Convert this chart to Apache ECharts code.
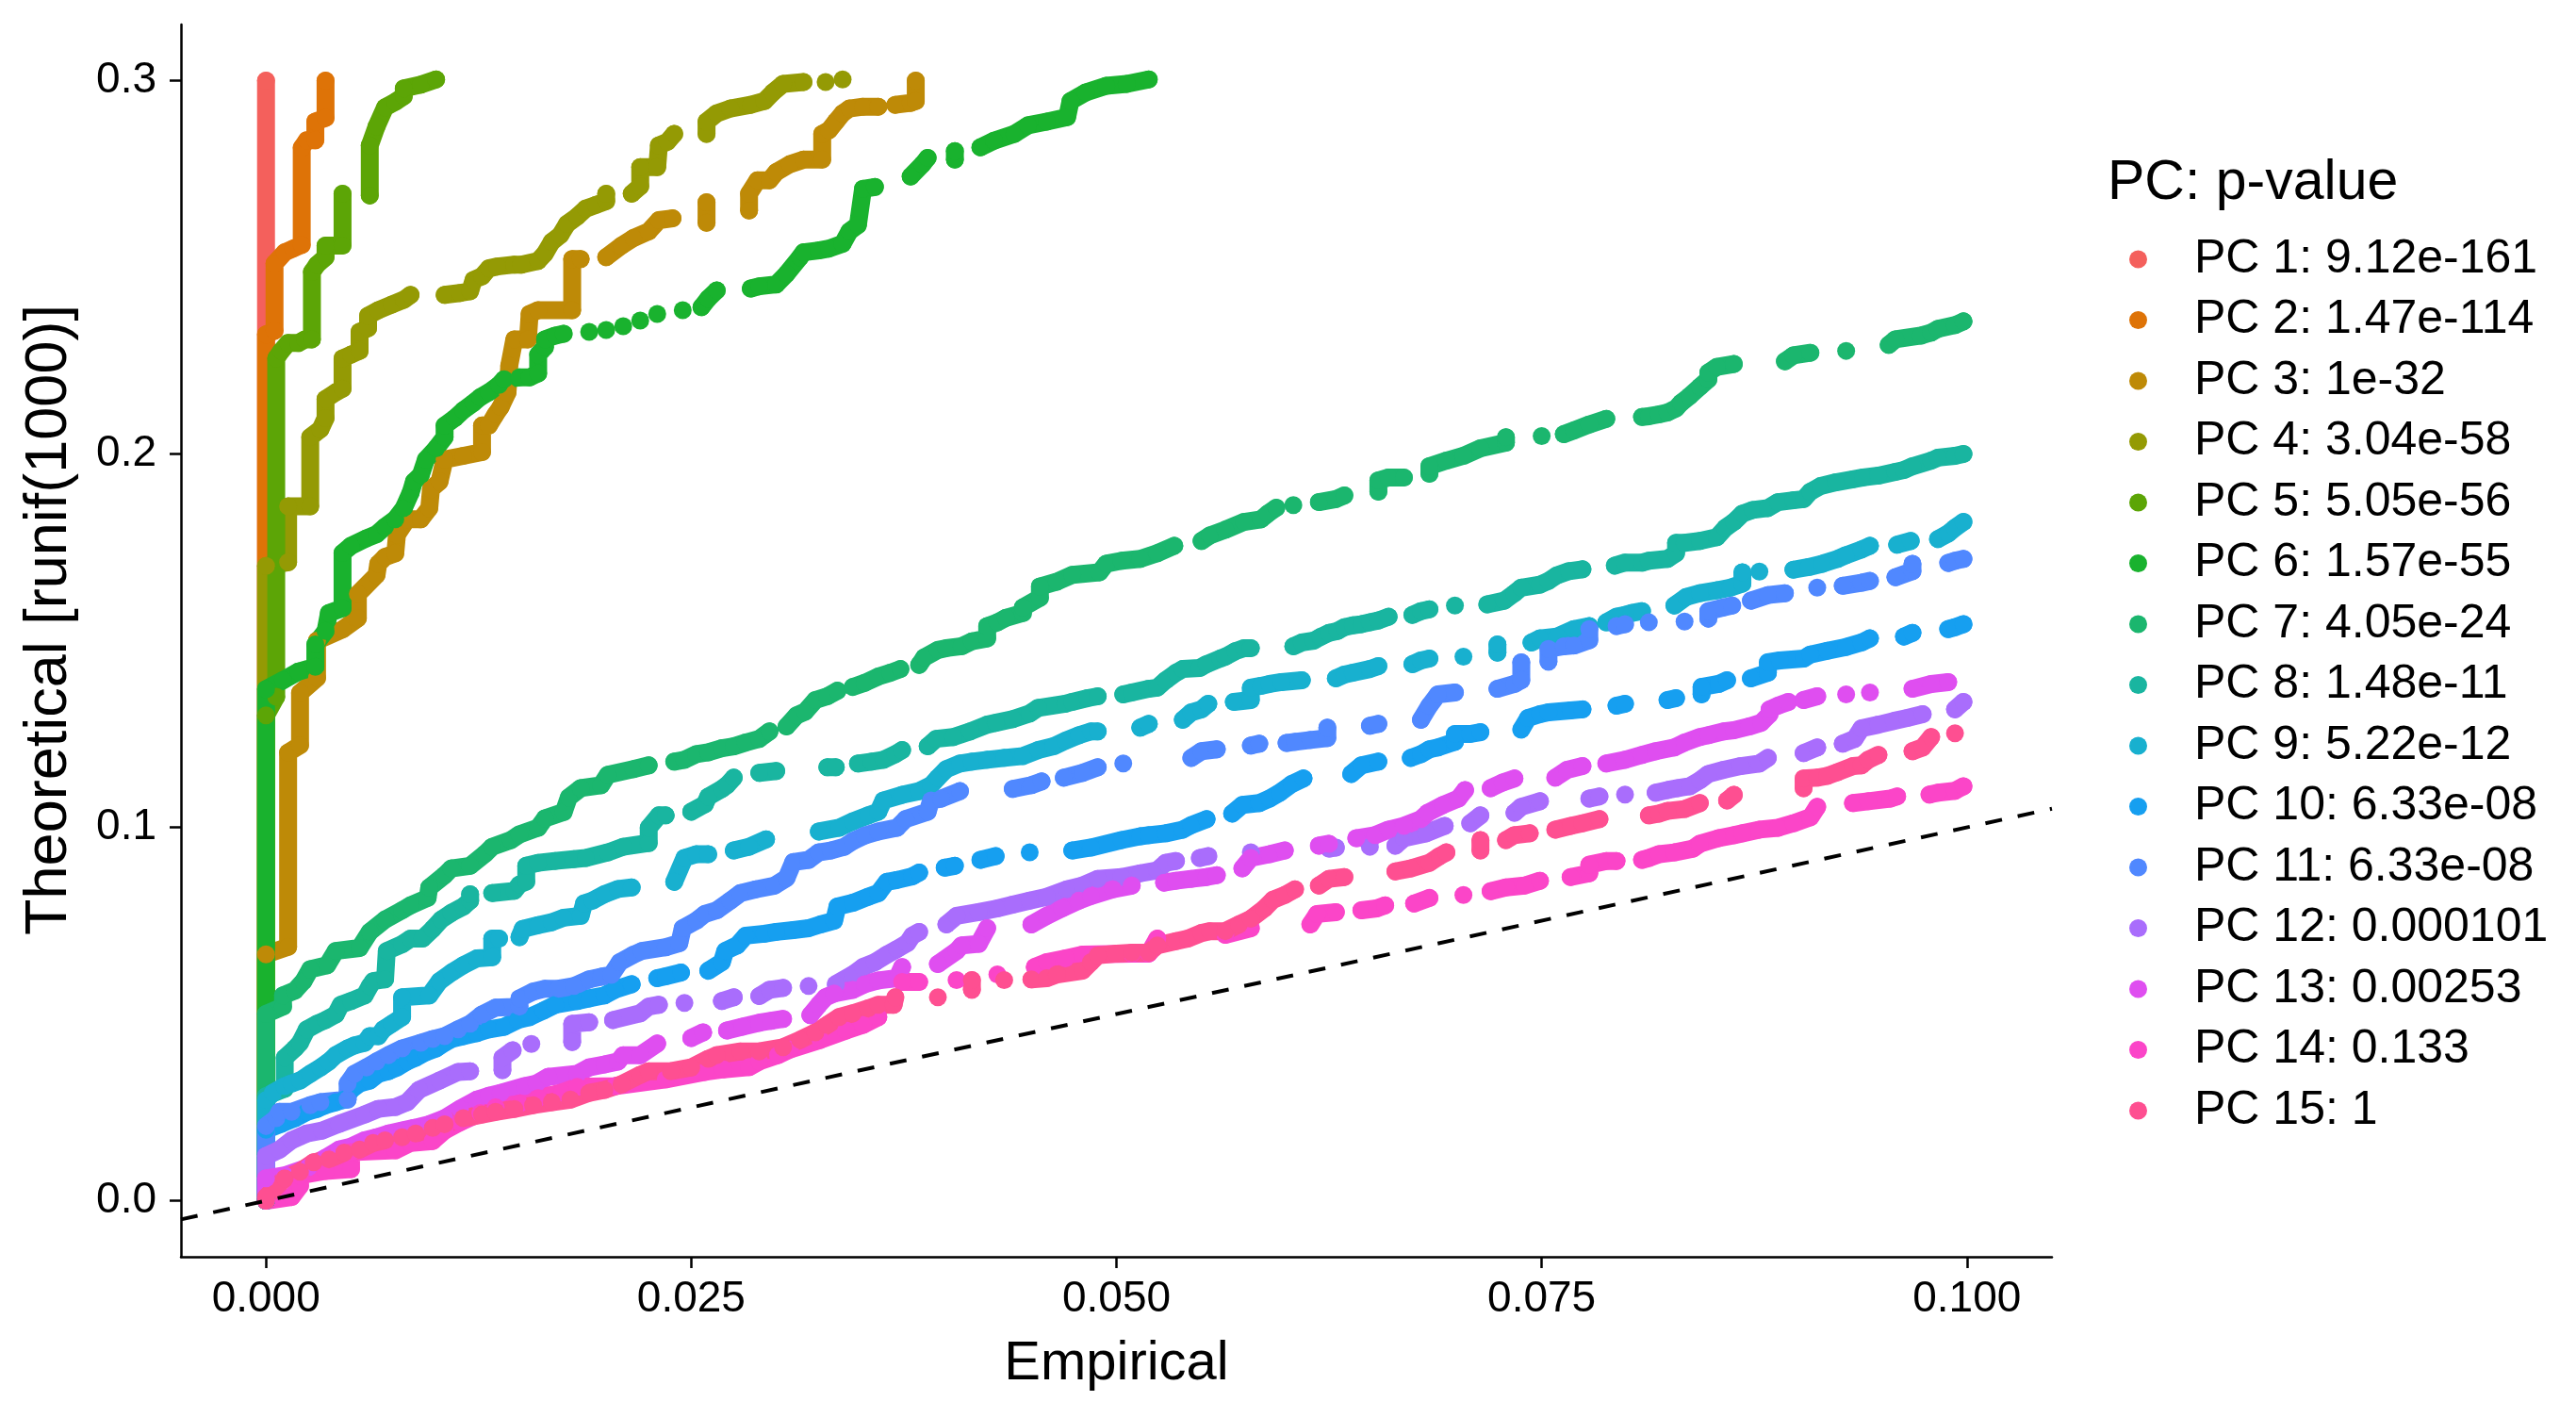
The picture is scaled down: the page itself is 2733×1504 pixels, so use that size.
<!DOCTYPE html>
<html>
<head>
<meta charset="utf-8">
<script src="https://cdn.jsdelivr.net/npm/echarts@6/dist/echarts.min.js"></script>
<style>
  html, body { margin: 0; padding: 0; background: #fff; }
  #box { width: 2733px; height: 1504px; }
</style>
</head>
<body>
<div id="box"></div>
<script>
// tick labels
const xTicks = [0, 0.025, 0.05, 0.075, 0.1];
const yTicks = [0, 0.1, 0.2, 0.3];

const pcNames = [
  'PC 1: 9.12e-161', 'PC 2: 1.47e-114', 'PC 3: 1e-32', 'PC 4: 3.04e-58', 'PC 5: 5.05e-56',
  'PC 6: 1.57e-55', 'PC 7: 4.05e-24', 'PC 8: 1.48e-11', 'PC 9: 5.22e-12', 'PC 10: 6.33e-08',
  'PC 11: 6.33e-08', 'PC 12: 0.000101', 'PC 13: 0.00253', 'PC 14: 0.133', 'PC 15: 1'
];
const pcColors = [
  '#F4605C', '#DE7307', '#BE8A07', '#949A04', '#5CA506', '#19B22E', '#1BB66E', '#19B5A0',
  '#18B0CF', '#169FF0', '#5088FF', '#A96DFC', '#DF4EF0', '#FB45C8', '#FE4F91'
];

// [empirical, theoretical], null = gap between dots
const pc1 = [[0,0],[0,0.3]];
const pc2 = [[0,0],[0,0.232],[0.0005,0.233],[0.0005,0.251],[0.0011,0.254],[0.0016,0.255],[0.0021,0.256],[0.0021,0.282],[0.0024,0.284],[0.0029,0.284],[0.0029,0.289],[0.0035,0.29],[0.0035,0.3]];
const pc3 = [[0,0],[0,0.066],[0.0013,0.068],[0.0013,0.12],[0.002,0.122],[0.002,0.136],[0.003,0.14],[0.003,0.15],[0.0045,0.153],[0.0054,0.156],[0.0054,0.1625],[0.0065,0.1676],[0.0066,0.1706],[0.007,0.1724],[0.0076,0.1734],[0.0077,0.1784],[0.0083,0.1825],[0.0091,0.1825],[0.0096,0.1855],[0.0097,0.1906],[0.0102,0.1926],[0.0105,0.1985],[0.0116,0.1995],[0.0127,0.2005],[0.0127,0.2076],[0.0131,0.2076],[0.0135,0.2106],[0.0138,0.2126],[0.0142,0.2165],[0.0143,0.2236],[0.0146,0.2307],[0.0154,0.2307],[0.0155,0.2375],[0.016,0.2385],[0.018,0.2385],[0.018,0.2522],[0.0185,0.2522],null,
  [0.02,0.2527],[0.0209,0.2558],[0.0216,0.2578],[0.0225,0.2596],[0.0231,0.2626],[0.0239,0.2631],null,[0.0259,0.2619],[0.0259,0.2674],null,
  [0.0284,0.2652],[0.0284,0.2697],[0.0289,0.2733],[0.0296,0.2733],[0.03,0.2755],[0.0308,0.2776],[0.0316,0.2788],[0.0327,0.2788],[0.0327,0.2857],[0.0331,0.2867],[0.0335,0.289],[0.0339,0.2912],[0.0343,0.2925],[0.0351,0.293],[0.036,0.293],null,
  [0.037,0.2935],[0.0379,0.294],[0.0382,0.2945],[0.0382,0.3]];
const pc4 = [[0,0],[0,0.17],[0.0013,0.171],[0.0013,0.186],[0.0026,0.186],[0.0026,0.2045],[0.0032,0.2066],[0.0035,0.2096],[0.0035,0.2147],[0.0041,0.2165],[0.0045,0.2175],[0.0045,0.2256],[0.005,0.2266],[0.0055,0.2276],[0.0055,0.2327],[0.006,0.2337],[0.006,0.237],[0.0066,0.2385],[0.0074,0.24],[0.0081,0.2413],[0.0085,0.2426],null,
  [0.0105,0.2426],[0.0114,0.2431],[0.012,0.2436],[0.0122,0.2466],[0.0127,0.2476],[0.0131,0.2497],[0.0136,0.2502],[0.0146,0.2507],[0.015,0.2507],[0.016,0.2517],[0.0164,0.2537],[0.0168,0.2568],[0.0173,0.2586],[0.0177,0.2616],[0.0183,0.2636],[0.0188,0.2657],[0.0194,0.2667],[0.02,0.2677],[0.02,0.2697],null,
  [0.0215,0.2697],[0.022,0.2717],[0.022,0.2768],[0.023,0.2768],[0.0231,0.2826],[0.0236,0.2836],[0.024,0.2857],null,
  [0.0259,0.2857],[0.0259,0.289],[0.0265,0.2912],[0.0273,0.2925],[0.0285,0.2935],[0.0293,0.2945],[0.0298,0.2968],[0.0304,0.2991],[0.0316,0.2996],null,[0.0329,0.2996],null,[0.0339,0.3003]];
const pc5 = [[0,0],[0,0.13],[0.0006,0.135],[0.0006,0.2256],[0.0009,0.2276],[0.0013,0.2297],[0.0019,0.2297],[0.0023,0.2307],[0.0027,0.2307],[0.0027,0.2487],[0.003,0.2507],[0.0035,0.2527],[0.0035,0.2558],[0.0045,0.2558],[0.0045,0.2697],null,
  [0.0061,0.2692],[0.0061,0.2826],[0.0065,0.2877],[0.007,0.2928],[0.0076,0.2943],[0.0081,0.2958],[0.0081,0.2979],[0.0091,0.2989],[0.01,0.3003]];
const pc6 = [[0,0],[0,0.137],[0.001,0.1394],[0.0019,0.1417],[0.0029,0.143],[0.0029,0.149],[0.0035,0.1526],[0.0037,0.1574],[0.0045,0.1587],[0.0045,0.1735],[0.005,0.1754],[0.0059,0.1774],[0.0065,0.1785],[0.007,0.1805],[0.0076,0.1825],[0.0081,0.1855],[0.0085,0.1896],[0.0087,0.1926],[0.0091,0.1944],[0.0094,0.1985],[0.01,0.2015],[0.0105,0.2045],[0.0105,0.2076],[0.0111,0.2096],[0.0116,0.2117],[0.0122,0.2137],[0.0126,0.2152],[0.0131,0.2165],[0.0137,0.2185],[0.014,0.22],[0.0149,0.2205],[0.0155,0.2205],[0.016,0.2216],[0.016,0.2266],[0.0164,0.2286],[0.0164,0.2307],[0.017,0.2317],[0.0175,0.2322],null,
  [0.019,0.2327],null,[0.02,0.2332],null,[0.021,0.2342],null,[0.022,0.2357],null,[0.023,0.2375],null,[0.0245,0.2385],null,[0.0256,0.2393],[0.026,0.2416],[0.0265,0.2438],null,
  [0.0285,0.2443],[0.029,0.2449],[0.03,0.2454],[0.0306,0.2482],[0.0314,0.2527],[0.0316,0.254],[0.0325,0.2545],[0.0331,0.255],[0.0339,0.2563],[0.0343,0.2596],[0.0348,0.2613],[0.0351,0.271],[0.0358,0.2715],null,
  [0.0379,0.2743],[0.0386,0.2776],[0.0389,0.2793],null,[0.0405,0.2788],[0.0405,0.2811],null,
  [0.042,0.2821],[0.0428,0.2839],[0.044,0.2857],[0.0448,0.288],[0.0459,0.289],[0.0471,0.2902],[0.0473,0.2945],[0.0482,0.2968],[0.0494,0.2986],[0.0506,0.2991],[0.0519,0.3003]];
const pc7 = [[0,0],[0,0.05],[0.001,0.052],[0.001,0.055],[0.0017,0.0563],[0.0022,0.0588],[0.0026,0.062],[0.0036,0.0631],[0.0041,0.0669],[0.0055,0.0677],[0.0061,0.072],[0.007,0.0753],[0.008,0.0778],[0.0085,0.0791],[0.0095,0.0811],[0.0096,0.0839],[0.0105,0.0872],[0.0109,0.089],[0.012,0.0897],[0.0129,0.093],[0.0133,0.0948],[0.0144,0.0966],[0.0149,0.0981],[0.016,0.0999],[0.0164,0.1024],[0.0175,0.1041],[0.0178,0.108],[0.0185,0.1105],[0.0197,0.1113],[0.0201,0.1141],[0.0216,0.1156],[0.0225,0.1166],null,
  [0.024,0.1176],[0.0246,0.1181],[0.0253,0.1196],[0.026,0.1201],[0.0268,0.1212],[0.0275,0.1217],[0.0282,0.1227],[0.029,0.1237],[0.0296,0.1257],null,
  [0.0306,0.127],[0.0312,0.13],[0.0317,0.131],[0.0323,0.1341],[0.033,0.1351],[0.0336,0.1366],null,
  [0.0345,0.1376],[0.0352,0.1387],[0.036,0.1404],[0.0367,0.1414],[0.0373,0.1424],null,
  [0.0384,0.1435],[0.0387,0.1455],[0.0395,0.1475],[0.04,0.148],[0.0409,0.1485],[0.0415,0.1498],[0.0424,0.1506],[0.0424,0.1539],[0.043,0.1549],[0.0435,0.1561],[0.0445,0.1574],[0.0445,0.1589],[0.0455,0.1615],[0.0455,0.1645],[0.0465,0.1658],[0.0474,0.1676],[0.049,0.1683],[0.0494,0.1706],[0.0503,0.1714],[0.0514,0.1719],[0.0524,0.1734],[0.0534,0.1754],null,
  [0.055,0.1767],[0.0555,0.1782],[0.0564,0.1797],[0.0575,0.1818],[0.0585,0.1825],[0.0589,0.184],[0.0594,0.1856],null,[0.0604,0.1863],null,
  [0.0619,0.1871],[0.0629,0.1879],[0.0634,0.1889],null,[0.0654,0.1899],[0.0654,0.1929],[0.066,0.1937],[0.0669,0.1937],null,
  [0.0684,0.1947],[0.0684,0.1967],[0.0694,0.1982],[0.0704,0.1995],[0.0714,0.2015],[0.0729,0.203],[0.0729,0.2045],null,[0.075,0.2048],null,
  [0.0763,0.2053],[0.0769,0.2063],[0.0778,0.2079],[0.0788,0.2094],null,
  [0.0809,0.2099],[0.0813,0.2101],[0.0819,0.2106],[0.0824,0.2111],[0.0829,0.2122],[0.0832,0.2137],[0.0837,0.2155],[0.0843,0.218],[0.0848,0.22],[0.0848,0.2218],[0.0853,0.2233],[0.0863,0.2241],null,
  [0.0893,0.2248],[0.0898,0.2264],[0.0908,0.2271],null,[0.0929,0.2276],null,
  [0.0954,0.2292],[0.0958,0.2307],[0.0973,0.2317],[0.0979,0.2325],[0.0983,0.2335],[0.0993,0.2345],[0.0998,0.2355]];
const pc8 = [[0,0],[0,0.028],[0.0011,0.03],[0.0011,0.0383],[0.0017,0.0408],[0.002,0.0423],[0.0024,0.0459],[0.003,0.0474],[0.0035,0.0484],[0.0041,0.0499],[0.0044,0.0525],[0.005,0.0535],[0.0058,0.055],[0.0061,0.0575],[0.0063,0.0588],[0.007,0.0593],[0.0071,0.0669],[0.008,0.0687],[0.0085,0.0702],[0.0092,0.0702],[0.0098,0.0728],[0.0103,0.0753],[0.0109,0.0771],[0.0116,0.0788],[0.012,0.0804],[0.012,0.0821],null,
  [0.0133,0.0824],[0.0146,0.083],[0.0149,0.0847],[0.0153,0.0855],[0.0153,0.0897],[0.016,0.0905],[0.017,0.091],[0.0181,0.0915],[0.0188,0.0918],[0.0201,0.0933],[0.021,0.0948],[0.0225,0.0958],[0.0225,0.0999],[0.0231,0.1032],[0.0235,0.1032],null,
  [0.025,0.1042],[0.0258,0.1062],[0.026,0.1082],[0.0268,0.1103],[0.0271,0.1113],[0.0275,0.1133],null,[0.029,0.1146],[0.03,0.1151],null,[0.033,0.1161],[0.0335,0.1161],null,
  [0.0348,0.1171],[0.0356,0.1176],[0.0363,0.1181],[0.037,0.1196],[0.0374,0.1207],null,
  [0.0389,0.1217],[0.0394,0.1237],[0.0404,0.1242],[0.0414,0.1257],[0.0424,0.1275],[0.0429,0.128],[0.0439,0.129],[0.0449,0.1305],[0.0454,0.132],[0.047,0.1331],[0.0474,0.1336],[0.0483,0.1346],[0.0489,0.1351],null,
  [0.0504,0.1356],[0.0509,0.1361],[0.0519,0.1371],[0.0524,0.1374],[0.0529,0.1394],[0.0535,0.1414],[0.0539,0.1424],[0.0549,0.1427],[0.0553,0.1437],[0.0561,0.1452],[0.0564,0.1457],[0.057,0.1472],[0.0575,0.148],[0.0579,0.148],null,
  [0.0604,0.1485],[0.0609,0.1495],[0.0616,0.15],[0.062,0.151],[0.0625,0.1521],[0.063,0.1526],[0.0634,0.1536],[0.0639,0.1541],[0.0644,0.1544],[0.0649,0.1549],[0.0654,0.1554],[0.066,0.1564],null,
  [0.0674,0.1569],[0.0679,0.1579],[0.0684,0.1584],null,[0.0699,0.1594],null,
  [0.0718,0.1597],[0.0728,0.1607],[0.0734,0.1627],[0.0738,0.1642],[0.0749,0.165],[0.0754,0.166],[0.0759,0.1675],[0.0766,0.1686],[0.0774,0.1691],null,
  [0.0793,0.1701],[0.0799,0.1709],[0.0809,0.1709],[0.0813,0.1714],[0.0824,0.1719],[0.0829,0.1734],[0.0829,0.1762],[0.0834,0.1762],[0.0843,0.1767],[0.0853,0.1777],[0.0858,0.1802],[0.0863,0.1818],[0.0868,0.184],[0.0874,0.185],[0.0883,0.1855],[0.0889,0.1871],[0.0898,0.1876],[0.0904,0.1879],[0.0908,0.1899],[0.0914,0.1914],[0.0923,0.1924],[0.0933,0.1932],[0.0939,0.1937],[0.0948,0.1942],[0.0958,0.1952],[0.0963,0.1957],[0.0968,0.1967],[0.0979,0.1982],[0.0983,0.199],[0.0993,0.1995],[0.0998,0.2]];
const pc9 = [[0,0],[0,0.027],[0.0004,0.0289],[0.0011,0.0307],[0.0015,0.0314],[0.002,0.0322],[0.0026,0.034],[0.0032,0.0357],[0.0037,0.0373],[0.0041,0.039],[0.0048,0.0408],[0.0052,0.0416],[0.0058,0.0423],[0.0061,0.0441],[0.0066,0.0441],[0.0069,0.0459],[0.0074,0.0474],[0.008,0.0492],[0.008,0.0545],[0.0096,0.055],[0.0102,0.0588],[0.0109,0.0611],[0.0116,0.0631],[0.0124,0.0649],[0.0133,0.0652],[0.0133,0.0702],[0.0137,0.0702],null,
  [0.0149,0.0706],[0.0151,0.0728],[0.016,0.0738],[0.0168,0.0746],[0.0175,0.0758],[0.0185,0.0763],[0.0187,0.0796],[0.0192,0.0804],[0.0199,0.0821],[0.0207,0.0835],[0.0215,0.0839],null,
  [0.024,0.0854],[0.0246,0.0918],[0.0253,0.0928],[0.026,0.0928],null,[0.0275,0.0938],[0.0284,0.0948],[0.0294,0.0968],null,
  [0.0325,0.0989],[0.0337,0.0999],[0.0345,0.1016],[0.0354,0.1032],[0.036,0.1042],[0.0363,0.1072],[0.0374,0.1087],[0.0384,0.1097],[0.0391,0.1113],[0.0395,0.1133],[0.04,0.1156],[0.0408,0.1171],[0.0415,0.1176],[0.0424,0.1181],[0.0434,0.1186],[0.0445,0.1191],[0.0454,0.1207],[0.0463,0.1217],[0.047,0.1232],[0.0478,0.1247],[0.0485,0.1257],[0.0489,0.1257],null,
  [0.0514,0.1267],[0.0519,0.1277],null,[0.0539,0.1288],[0.0544,0.1308],[0.055,0.1316],[0.0554,0.1331],null,
  [0.0569,0.1336],[0.0579,0.1341],[0.0579,0.1374],[0.0585,0.1379],[0.059,0.1384],[0.0597,0.1389],[0.0609,0.1394],null,
  [0.0629,0.1399],[0.0634,0.1409],[0.0639,0.1414],[0.0649,0.1424],[0.0654,0.1432],null,[0.0674,0.1437],[0.0679,0.1447],[0.0684,0.1452],null,[0.0704,0.1457],null,
  [0.0724,0.1468],[0.0724,0.149],null,[0.0744,0.1495],[0.0749,0.1506],[0.0759,0.1511],[0.0769,0.1531],[0.0778,0.1539],null,
  [0.0788,0.1549],[0.0794,0.1564],[0.0799,0.1569],[0.0803,0.1574],[0.0809,0.1579],null,
  [0.0828,0.1594],[0.0835,0.1617],[0.0843,0.1627],[0.0853,0.1635],[0.0861,0.1642],[0.0868,0.1653],[0.0868,0.1683],null,[0.0878,0.1685],null,
  [0.0898,0.169],[0.0907,0.1697],[0.0915,0.1706],[0.0924,0.1719],[0.0929,0.1729],[0.0938,0.1744],[0.0943,0.1754],null,
  [0.0959,0.1757],[0.0967,0.1767],null,[0.0983,0.1772],[0.0989,0.1787],[0.0993,0.1802],[0.0998,0.1818]];
const pc10 = [[0,0],[0,0.019],[0.0009,0.0206],[0.0017,0.0221],[0.0024,0.0238],[0.003,0.0246],[0.0035,0.0256],[0.0041,0.0264],[0.0046,0.0271],[0.005,0.0297],[0.0055,0.0314],[0.0061,0.0322],[0.0066,0.034],[0.0072,0.0347],[0.0077,0.0357],[0.0083,0.0373],[0.0088,0.0383],[0.0094,0.0398],[0.01,0.0408],[0.0105,0.0423],[0.0109,0.0433],[0.0116,0.0441],[0.0124,0.0449],[0.0131,0.0459],[0.014,0.0466],[0.0148,0.0484],[0.0155,0.0492],[0.0163,0.0509],[0.017,0.0525],[0.0183,0.0535],[0.019,0.0542],[0.0199,0.055],[0.0205,0.0565],[0.0215,0.058],null,
  [0.023,0.0596],[0.0235,0.0601],[0.0244,0.0611],null,
  [0.026,0.0616],[0.0268,0.0639],[0.027,0.0669],[0.0277,0.0684],[0.0282,0.071],[0.0293,0.0715],[0.03,0.072],[0.031,0.0725],[0.0319,0.073],[0.0326,0.074],[0.0334,0.075],[0.0336,0.0788],[0.0345,0.0798],[0.0354,0.0814],[0.036,0.0824],[0.0365,0.0854],[0.0371,0.0859],[0.038,0.0869],[0.0384,0.0879],null,
  [0.0399,0.0892],[0.0405,0.0897],null,[0.042,0.0913],[0.0429,0.0923],null,[0.0449,0.0933],null,
  [0.0474,0.0938],[0.0485,0.0946],[0.0503,0.0966],[0.0514,0.0976],[0.0519,0.0979],[0.0529,0.0984],[0.0539,0.0994],[0.0544,0.1006],[0.0553,0.1022],null,
  [0.0568,0.1037],[0.0574,0.106],[0.0584,0.1065],[0.059,0.1077],[0.0596,0.1093],[0.0603,0.1116],[0.061,0.1131],null,
  [0.0638,0.1143],[0.0644,0.1166],[0.0654,0.1176],null,
  [0.0673,0.1186],[0.0679,0.1196],[0.0684,0.1209],[0.0689,0.1214],[0.0699,0.1229],[0.0699,0.125],[0.0708,0.125],[0.0714,0.1255],null,
  [0.0738,0.1262],[0.0742,0.1293],[0.0749,0.1303],[0.0754,0.1308],[0.0767,0.1313],[0.0774,0.1316],null,
  [0.0794,0.1326],[0.0799,0.1331],null,[0.0824,0.1341],[0.0829,0.1346],null,
  [0.0844,0.1356],[0.0844,0.1376],[0.0854,0.1384],[0.0859,0.1394],null,
  [0.0873,0.1399],[0.0883,0.1414],[0.0883,0.1442],[0.089,0.1447],[0.0904,0.1452],[0.0908,0.1463],[0.0918,0.1473],[0.0929,0.1483],[0.0938,0.1495],[0.0943,0.1506],null,
  [0.0963,0.1511],[0.0968,0.1521],null,[0.0989,0.1531],[0.0993,0.1536],[0.0998,0.1544]];
const pc11 = [[0,0],[0,0.02],[0.0006,0.0221],[0.0008,0.0238],[0.0015,0.0238],[0.0026,0.0256],[0.0032,0.0264],[0.0048,0.0271],[0.0048,0.0314],[0.0052,0.034],[0.0059,0.0357],[0.0065,0.0373],[0.0072,0.039],[0.008,0.0408],[0.0091,0.0423],[0.0098,0.0433],[0.0105,0.0441],[0.0113,0.0459],[0.012,0.0474],[0.0127,0.0499],[0.0135,0.0517],[0.0149,0.052],[0.0149,0.0542],[0.0157,0.056],[0.0164,0.0568],[0.0172,0.0568],[0.0181,0.0575],[0.019,0.0593],[0.0197,0.06],[0.0203,0.0605],[0.0208,0.0639],[0.0216,0.0659],[0.0221,0.0669],[0.0235,0.0679],[0.0243,0.069],[0.0245,0.073],[0.0253,0.075],[0.0258,0.0768],[0.0265,0.0778],[0.0273,0.0804],[0.0279,0.0824],[0.0288,0.0834],[0.0299,0.0844],[0.0306,0.0864],[0.031,0.0907],[0.0319,0.0913],[0.0325,0.0933],[0.0332,0.0938],[0.034,0.0948],[0.0345,0.0963],[0.0352,0.0978],[0.036,0.0989],[0.0371,0.0999],[0.0376,0.1022],[0.0389,0.1042],[0.0391,0.1072],[0.0397,0.1077],[0.0408,0.1097],null,
  [0.0439,0.1103],[0.045,0.1113],[0.0456,0.1123],null,[0.0469,0.1133],[0.048,0.1146],[0.0489,0.1161],null,[0.0504,0.1171],null,
  [0.0544,0.1186],[0.055,0.1204],[0.0559,0.1209],null,[0.0579,0.1219],[0.0584,0.1224],null,
  [0.06,0.1226],[0.0605,0.1229],[0.0614,0.1234],[0.0624,0.1239],[0.0624,0.1267],null,[0.0649,0.1272],[0.0654,0.1277],null,
  [0.0679,0.1288],[0.0684,0.1326],[0.0689,0.1356],[0.0699,0.1361],null,
  [0.0724,0.1371],[0.0734,0.1384],[0.0738,0.1394],[0.0738,0.1442],null,
  [0.0754,0.1444],[0.0754,0.1478],[0.0763,0.1485],[0.0769,0.1487],[0.0778,0.1501],[0.0778,0.1531],null,
  [0.0794,0.1539],[0.0799,0.1544],null,[0.0813,0.1549],null,[0.0834,0.1551],null,
  [0.0848,0.1559],[0.0848,0.1579],[0.0857,0.1589],[0.0862,0.1594],null,[0.0873,0.1607],[0.0883,0.1622],[0.0893,0.1627],null,[0.0912,0.1642],null,
  [0.0927,0.1647],[0.0938,0.1655],[0.0943,0.166],null,[0.0958,0.167],[0.0968,0.1686],[0.0968,0.1706],null,
  [0.0989,0.1708],[0.0993,0.1714],[0.0998,0.1719]];
const pc12 = [[0,0],[0,0.012],[0.0008,0.0137],[0.0015,0.0162],[0.0024,0.018],[0.0033,0.0188],[0.0043,0.0206],[0.0058,0.0231],[0.0066,0.0246],[0.0076,0.0251],[0.0083,0.0264],[0.009,0.0297],[0.0102,0.0322],[0.0113,0.0345],[0.012,0.0347],null,
  [0.0139,0.035],[0.0139,0.0383],[0.0145,0.0403],null,[0.0156,0.042],null,[0.018,0.0425],[0.018,0.0474],[0.019,0.0478],null,
  [0.0204,0.0484],[0.022,0.0502],[0.0225,0.052],[0.0231,0.0525],null,[0.0246,0.053],null,[0.0268,0.0535],[0.0275,0.0545],null,
  [0.029,0.0548],[0.0296,0.0565],[0.0304,0.057],null,[0.0319,0.0575],null,
  [0.0335,0.058],[0.0345,0.0606],[0.0351,0.0626],[0.0358,0.0639],[0.0365,0.0659],[0.0371,0.0674],[0.0377,0.069],[0.038,0.071],[0.0384,0.072],null,
  [0.04,0.074],[0.0406,0.0763],[0.0419,0.0773],[0.043,0.0783],[0.0439,0.0793],[0.0449,0.0804],[0.0459,0.0814],[0.0471,0.0834],[0.048,0.0844],[0.0489,0.0862],[0.0503,0.0867],[0.0514,0.0877],[0.0524,0.0885],[0.0529,0.0905],[0.0535,0.091],null,
  [0.0549,0.0918],[0.0554,0.0923],null,[0.0579,0.0933],null,[0.0625,0.0943],[0.0629,0.0946],null,[0.0649,0.0948],null,
  [0.0664,0.0951],[0.0669,0.0971],[0.0682,0.0984],[0.0693,0.1004],null,[0.0708,0.1011],[0.0714,0.1032],null,
  [0.0734,0.1039],[0.0738,0.1055],[0.0749,0.107],null,[0.0778,0.1077],[0.0784,0.1083],null,[0.0799,0.1088],null,
  [0.0817,0.1093],[0.0824,0.11],[0.083,0.1105],[0.0837,0.111],[0.0843,0.1126],[0.0848,0.1143],[0.0857,0.1154],[0.0867,0.1164],[0.0878,0.1171],[0.0883,0.1186],null,
  [0.0904,0.1199],[0.0912,0.1214],null,[0.0927,0.1224],[0.0934,0.1237],[0.0938,0.1265],[0.0948,0.1275],[0.0957,0.1285],[0.0965,0.1293],[0.0974,0.1303],null,
  [0.0993,0.1316],[0.0998,0.1336]];
const pc13 = [[0,0],[0,0.006],[0.0011,0.0068],[0.0025,0.009],[0.0035,0.0115],[0.0043,0.0137],[0.005,0.0145],[0.0058,0.0162],[0.0065,0.017],[0.0072,0.018],[0.008,0.0188],[0.0087,0.0195],[0.0096,0.0205],[0.0105,0.0221],[0.0114,0.0246],[0.0124,0.0271],[0.0131,0.0281],[0.0138,0.0289],[0.0152,0.0307],[0.0159,0.0314],[0.0166,0.0332],[0.0183,0.034],[0.019,0.0357],[0.0199,0.0365],[0.0207,0.0373],[0.021,0.039],[0.022,0.039],[0.023,0.0421],null,
  [0.025,0.0436],[0.0257,0.0451],null,[0.0271,0.0456],[0.028,0.0466],[0.029,0.0477],[0.0297,0.0482],[0.0304,0.0487],null,
  [0.032,0.0497],[0.0325,0.0525],[0.0329,0.0545],[0.0334,0.0555],[0.0345,0.0565],[0.0352,0.058],[0.036,0.059],[0.0371,0.0596],[0.0374,0.0626],null,
  [0.0395,0.0634],[0.0406,0.0669],[0.0409,0.0684],[0.0419,0.0688],[0.0424,0.073],null,
  [0.045,0.074],[0.0459,0.0763],[0.0468,0.0783],[0.0478,0.0804],[0.0485,0.0816],[0.0498,0.0834],[0.0509,0.0844],null,
  [0.0528,0.0852],[0.0535,0.0857],[0.0544,0.0862],[0.0553,0.0867],[0.0559,0.0872],null,
  [0.0574,0.089],[0.0579,0.0918],[0.059,0.0928],[0.0599,0.0938],null,[0.0619,0.0951],[0.0625,0.0956],null,
  [0.0641,0.0971],[0.0652,0.0979],[0.066,0.0994],[0.0669,0.1004],[0.0679,0.1022],[0.0683,0.1039],[0.0692,0.106],[0.0701,0.1077],[0.0705,0.11],null,
  [0.072,0.1105],[0.0727,0.112],[0.0734,0.1131],null,[0.0758,0.1133],[0.0765,0.1154],[0.0774,0.1164],null,
  [0.0788,0.1171],[0.0799,0.1181],[0.0809,0.1194],[0.0817,0.1204],[0.0828,0.1214],[0.0834,0.1227],[0.0843,0.1242],[0.0848,0.1247],[0.0857,0.1257],[0.0863,0.126],[0.0872,0.127],[0.0879,0.128],[0.0884,0.1303],[0.0884,0.1316],[0.0889,0.1326],[0.0895,0.1336],null,
  [0.0904,0.1341],[0.0912,0.1351],null,[0.0929,0.1356],null,[0.0943,0.1361],null,[0.0968,0.1371],[0.0979,0.1384],[0.0989,0.1389]];
const pc14 = [[0,0],[0.0015,0.001],[0.002,0.004],[0.002,0.0068],[0.0035,0.008],[0.005,0.0085],[0.005,0.013],[0.0076,0.0135],[0.0085,0.0155],[0.0098,0.016],[0.0105,0.0188],[0.0114,0.021],[0.0126,0.0235],[0.0135,0.025],[0.0149,0.026],[0.016,0.0275],[0.0174,0.029],[0.0183,0.0305],[0.0205,0.0307],[0.0235,0.0325],[0.0258,0.0345],[0.0269,0.0352],[0.0284,0.0358],[0.029,0.0373],[0.0301,0.039],[0.0308,0.0405],[0.0326,0.0431],[0.0341,0.0456],[0.0351,0.0471],[0.036,0.0492],null,
  [0.0374,0.0586],[0.0384,0.0586],null,[0.0406,0.0591],null,[0.043,0.0606],null,
  [0.0452,0.0626],[0.0459,0.0639],[0.047,0.0649],[0.048,0.0659],[0.0509,0.0662],[0.0519,0.0662],[0.0524,0.0702],null,
  [0.0564,0.0712],[0.0579,0.073],null,[0.0614,0.074],[0.0618,0.0768],[0.0629,0.0773],null,[0.0644,0.0778],[0.0653,0.0783],[0.0658,0.0791],null,
  [0.0675,0.0796],[0.0684,0.0811],null,[0.0704,0.0819],null,[0.072,0.0829],[0.0729,0.0839],[0.074,0.0844],[0.0749,0.0857],null,
  [0.0767,0.0867],[0.0778,0.0877],[0.0778,0.09],[0.0788,0.091],[0.0794,0.091],null,
  [0.0809,0.0913],[0.0813,0.0918],[0.0819,0.0928],[0.0828,0.0933],[0.0839,0.0943],[0.0843,0.0956],[0.0854,0.0971],[0.0863,0.0979],[0.0868,0.0984],[0.0878,0.0994],[0.0889,0.0999],[0.0898,0.1011],[0.0908,0.1027],[0.0912,0.1055],null,
  [0.0933,0.1065],[0.0942,0.107],[0.0955,0.1077],[0.0959,0.1083],null,[0.0978,0.1088],[0.0983,0.1093],[0.0993,0.1098],[0.0998,0.111]];
const pc15 = [[0,0],[0,0.001],[0.0011,0.006],[0.002,0.0078],[0.0028,0.0103],[0.0037,0.0111],[0.0046,0.0129],[0.0055,0.0137],[0.0063,0.0155],[0.007,0.0162],[0.008,0.017],[0.0088,0.018],[0.0098,0.0195],[0.0105,0.0205],[0.0116,0.0221],[0.0127,0.0231],[0.0135,0.0238],[0.0146,0.0246],[0.0157,0.0256],[0.0168,0.0264],[0.0179,0.0271],[0.019,0.0289],[0.0199,0.0297],[0.0209,0.0312],[0.022,0.0337],[0.0225,0.0347],[0.0238,0.0347],[0.025,0.0357],[0.026,0.038],[0.0265,0.039],[0.0279,0.04],[0.029,0.04],[0.0304,0.0411],[0.0314,0.0431],[0.0323,0.0451],[0.033,0.0471],[0.0337,0.0492],[0.0345,0.0502],[0.0354,0.0515],[0.036,0.0525],[0.0369,0.0525],[0.037,0.0545],null,
  [0.0395,0.0545],null,[0.0415,0.0565],[0.0415,0.0591],null,[0.0434,0.0591],null,
  [0.045,0.0593],[0.0459,0.0596],[0.0465,0.0606],[0.048,0.0616],[0.0485,0.0639],[0.0489,0.0657],[0.05,0.0662],[0.0509,0.0664],[0.0519,0.0664],[0.0524,0.0684],[0.0535,0.0695],[0.0542,0.0702],[0.055,0.0717],[0.0555,0.0722],[0.0564,0.0722],[0.0572,0.074],[0.0579,0.0755],[0.0587,0.0783],[0.0592,0.0806],[0.0599,0.0819],[0.0605,0.0834],null,
  [0.0619,0.0844],[0.0625,0.0862],[0.0634,0.0867],null,[0.0664,0.0882],[0.0673,0.089],[0.0684,0.0905],[0.069,0.0923],[0.0694,0.0933],null,
  [0.0714,0.0938],[0.0714,0.0966],null,[0.0729,0.0966],[0.0734,0.0979],[0.0743,0.0984],null,
  [0.0758,0.0994],[0.0767,0.1004],[0.0774,0.1011],[0.0784,0.1022],null,
  [0.0813,0.1032],[0.0819,0.1037],[0.0824,0.1044],[0.0834,0.1049],[0.0843,0.1065],null,[0.0859,0.1072],[0.0863,0.1087],null,
  [0.0904,0.1105],[0.0904,0.1131],[0.0912,0.1133],[0.0918,0.1138],[0.0924,0.1148],[0.0933,0.1164],[0.0938,0.1166],[0.0942,0.1181],[0.0948,0.1194],null,
  [0.0968,0.1204],[0.0974,0.1214],[0.0979,0.1242],null,[0.0993,0.1252]];
const pcPoints = [pc1, pc2, pc3, pc4, pc5, pc6, pc7, pc8, pc9, pc10, pc11, pc12, pc13, pc14, pc15];

// y = x reference line
const refLine = [[-0.005, -0.005], [0.105, 0.105]];

const FONT = '"Liberation Sans", Arial, Helvetica, sans-serif';
const DOT = 19;

let myChart = echarts.init(document.getElementById('box'), null, { renderer: 'canvas' });

let series = pcPoints.map((pts, i) => ({
  name: pcNames[i],
  type: 'line',
  data: pts.map(p => (p === null ? ['-', '-'] : p)),
  connectNulls: false,
  showSymbol: true,
  symbol: 'circle',
  symbolSize: DOT,
  itemStyle: { color: pcColors[i] },
  lineStyle: { color: pcColors[i], width: DOT, cap: 'round', join: 'round' },
  emphasis: { disabled: true },
  silent: true,
  z: 2
}));
series.push({
  type: 'line',
  data: refLine,
  showSymbol: false,
  lineStyle: { color: '#000', width: 4, type: [18, 17] },
  silent: true,
  z: 5
});

let axisCommon = {
  type: 'value',
  nameLocation: 'middle',
  axisLine: { show: true, onZero: false, lineStyle: { color: '#000', width: 2.5 } },
  splitLine: { show: false }
};

let option = {
  backgroundColor: '#fff',
  animation: false,
  grid: { left: 192, right: 556, top: 26, bottom: 171, containLabel: false, outerBoundsMode: 'none' },
  title: {
    text: 'PC: p-value',
    left: 2231,
    top: 160,
    textStyle: { fontFamily: FONT, fontSize: 59, fontWeight: 'normal', color: '#000' }
  },
  legend: {
    orient: 'vertical',
    left: 2254,
    top: 245,
    icon: 'circle',
    itemWidth: 19,
    itemHeight: 19,
    itemGap: 14.5,
    selectedMode: false,
    data: pcNames,
    textStyle: { fontFamily: FONT, fontSize: 50, lineHeight: 50, color: '#000', padding: [0, 0, 0, 45] }
  },
  xAxis: Object.assign({}, axisCommon, {
    min: -0.005,
    max: 0.105,
    name: 'Empirical',
    nameGap: 85,
    nameTextStyle: { fontFamily: FONT, fontSize: 58, color: '#000' },
    axisTick: { show: true, length: 12, lineStyle: { color: '#000', width: 2.5 }, customValues: xTicks },
    axisLabel: { customValues: xTicks, margin: 22, fontFamily: FONT, fontSize: 46, color: '#000',
      formatter: v => v.toFixed(3) }
  }),
  yAxis: Object.assign({}, axisCommon, {
    min: -0.015,
    max: 0.315,
    name: 'Theoretical [runif(1000)]',
    nameGap: 108,
    nameTextStyle: { fontFamily: FONT, fontSize: 63, color: '#000', padding: [0, 0, 0, 44] },
    axisTick: { show: true, length: 12, lineStyle: { color: '#000', width: 2.5 }, customValues: yTicks },
    axisLabel: { customValues: yTicks, margin: 26, fontFamily: FONT, fontSize: 46, color: '#000',
      formatter: v => v.toFixed(1) }
  }),
  series: series
};
myChart.setOption(option);
</script>
</body>
</html>
